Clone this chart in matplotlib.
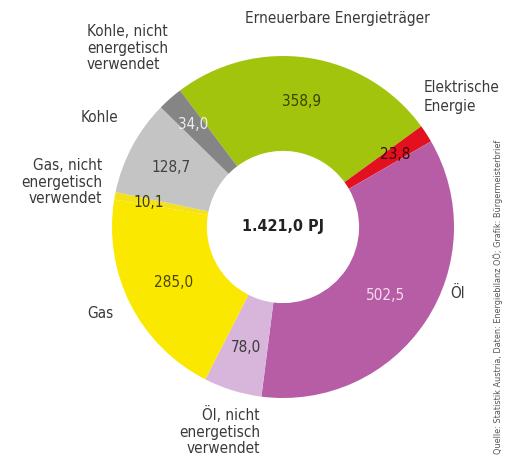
import numpy as np
import matplotlib
matplotlib.use("Agg")
from matplotlib import pyplot as plt

plt.rcParams['font.family'] = ['DejaVu Sans']
plt.rcParams['font.stretch'] = 'condensed'

# Energieträger, im Uhrzeigersinn ab "Erneuerbare"
names = ["Erneuerbare Energieträger", "Elektrische Energie", "Öl",
         "Öl, nicht energetisch verwendet", "Gas",
         "Gas, nicht energetisch verwendet", "Kohle",
         "Kohle, nicht energetisch verwendet"]
values = [358.9, 23.8, 502.5, 78.0, 285.0, 10.1, 128.7, 34.0]
value_labels = ["358,9", "23,8", "502,5", "78,0", "285,0", "10,1", "128,7", "34,0"]
total_label = "1.421,0 PJ"
source = "Quelle: Statistik Austria, Daten: Energiebilanz OÖ; Grafik: Bürgermeisterbrief"

colors = ["#a2c40c", "#e3101f", "#b75da6", "#d8b5da", "#fbe800",
          "#f3e21a", "#c4c4c4", "#858585"]
val_colors = ["#3b4200", "#3a0a0a", "#f6dcef", "#3a3a3a", "#4a4400",
              "#3a3a00", "#404040", "#eeeeee"]
val_r = [0.74, 0.78, 0.72, 0.74, 0.72, 0.80, 0.74, 0.80]

fig = plt.figure(figsize=(5.12, 4.66), dpi=100)
ax = fig.add_axes([0, 0, 1, 1])

cx, cy, R = 283, 466 - 227, 171
wedges, _ = ax.pie(values, colors=colors, startangle=127, counterclock=False,
                   center=(cx, cy), radius=R,
                   wedgeprops=dict(width=R * 0.555, linewidth=0))
ax.set_xlim(0, 512)
ax.set_ylim(0, 466)
ax.set_aspect('equal')
ax.axis('off')

# Werte in den Ringsegmenten
for w, lab, c, rr in zip(wedges, value_labels, val_colors, val_r):
    ang = np.deg2rad((w.theta1 + w.theta2) / 2)
    ax.text(cx + rr * R * np.cos(ang), cy + rr * R * np.sin(ang), lab,
            ha='center', va='center', fontsize=11, color=c)

ax.text(cx, cy, total_label, ha='center', va='center', fontsize=11.5,
        fontweight='bold', color='#222222')

# Beschriftungen außen
tc = '#3a3a3a'
fs = 11
ax.text(337, 466 - 19, "Erneuerbare Energieträger", ha='center', va='center', fontsize=fs, color=tc)
ax.text(424, 466 - 97, "Elektrische\nEnergie", ha='left', va='center', fontsize=fs, color=tc, linespacing=1.3)
ax.text(450, 466 - 293, "Öl", ha='left', va='center', fontsize=fs, color=tc)
ax.text(260, 466 - 431, "Öl, nicht\nenergetisch\nverwendet", ha='right', va='center', fontsize=fs, color=tc, linespacing=1.1)
ax.text(113, 466 - 313, "Gas", ha='right', va='center', fontsize=fs, color=tc)
ax.text(102, 466 - 182, "Gas, nicht\nenergetisch\nverwendet", ha='right', va='center', fontsize=fs, color=tc, linespacing=1.1)
ax.text(118, 466 - 117, "Kohle", ha='right', va='center', fontsize=fs, color=tc)
ax.text(87, 466 - 48, "Kohle, nicht\nenergetisch\nverwendet", ha='left', va='center', fontsize=fs, color=tc, linespacing=1.15)

ax.text(498, 466 - 297, source, rotation=90, ha='center', va='center', fontsize=6.5, color='#555555')

plt.savefig('out.png', dpi=100)
